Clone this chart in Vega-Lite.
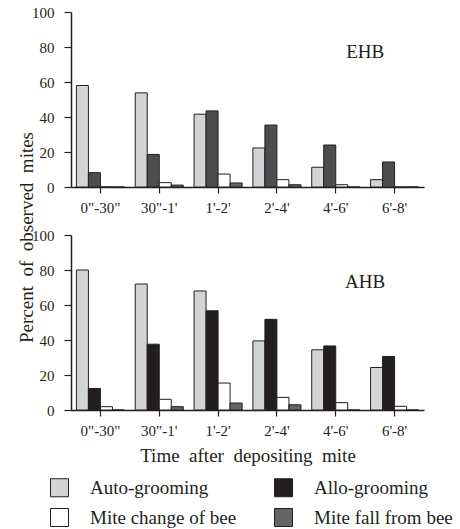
{
  "$schema": "https://vega.github.io/schema/vega-lite/v6.json",
  "background": "white",
  "padding": {"left": 17, "top": 5, "right": 5, "bottom": 5},
  "config": {
    "font": "Liberation Serif",
    "view": {"stroke": null},
    "axis": {
      "labelFont": "Liberation Serif", "titleFont": "Liberation Serif",
      "labelFontSize": 15, "titleFontSize": 19, "titleFontWeight": "normal",
      "labelColor": "#231f20", "titleColor": "#231f20",
      "domainColor": "#231f20", "tickColor": "#231f20",
      "domainWidth": 1.5, "tickWidth": 1.2, "grid": false, "labelOverlap": false
    },
    "axisX": {"tickSize": 6, "labelPadding": 7, "labelAngle": 0, "titlePadding": 8},
    "axisY": {"tickSize": 7, "labelPadding": 10, "titlePadding": -5}
  },
  "datasets": {
    "bars": [
      {"panel": "EHB", "time": "0\"-30\"", "behavior": "Auto-grooming", "pct": 58},
      {"panel": "EHB", "time": "0\"-30\"", "behavior": "Allo-grooming", "pct": 8.2},
      {"panel": "EHB", "time": "0\"-30\"", "behavior": "Mite change of bee", "pct": 0},
      {"panel": "EHB", "time": "0\"-30\"", "behavior": "Mite fall from bee", "pct": 0},
      {"panel": "EHB", "time": "30\"-1'", "behavior": "Auto-grooming", "pct": 53.8},
      {"panel": "EHB", "time": "30\"-1'", "behavior": "Allo-grooming", "pct": 18.6},
      {"panel": "EHB", "time": "30\"-1'", "behavior": "Mite change of bee", "pct": 2.5},
      {"panel": "EHB", "time": "30\"-1'", "behavior": "Mite fall from bee", "pct": 1.1},
      {"panel": "EHB", "time": "1'-2'", "behavior": "Auto-grooming", "pct": 41.6},
      {"panel": "EHB", "time": "1'-2'", "behavior": "Allo-grooming", "pct": 43.5},
      {"panel": "EHB", "time": "1'-2'", "behavior": "Mite change of bee", "pct": 7.4},
      {"panel": "EHB", "time": "1'-2'", "behavior": "Mite fall from bee", "pct": 2.3},
      {"panel": "EHB", "time": "2'-4'", "behavior": "Auto-grooming", "pct": 22.3},
      {"panel": "EHB", "time": "2'-4'", "behavior": "Allo-grooming", "pct": 35.4},
      {"panel": "EHB", "time": "2'-4'", "behavior": "Mite change of bee", "pct": 4.2},
      {"panel": "EHB", "time": "2'-4'", "behavior": "Mite fall from bee", "pct": 1.3},
      {"panel": "EHB", "time": "4'-6'", "behavior": "Auto-grooming", "pct": 11.3},
      {"panel": "EHB", "time": "4'-6'", "behavior": "Allo-grooming", "pct": 24},
      {"panel": "EHB", "time": "4'-6'", "behavior": "Mite change of bee", "pct": 1.3},
      {"panel": "EHB", "time": "4'-6'", "behavior": "Mite fall from bee", "pct": 0},
      {"panel": "EHB", "time": "6'-8'", "behavior": "Auto-grooming", "pct": 4.2},
      {"panel": "EHB", "time": "6'-8'", "behavior": "Allo-grooming", "pct": 14.3},
      {"panel": "EHB", "time": "6'-8'", "behavior": "Mite change of bee", "pct": 0},
      {"panel": "EHB", "time": "6'-8'", "behavior": "Mite fall from bee", "pct": 0},
      {"panel": "AHB", "time": "0\"-30\"", "behavior": "Auto-grooming", "pct": 80},
      {"panel": "AHB", "time": "0\"-30\"", "behavior": "Allo-grooming", "pct": 12.3},
      {"panel": "AHB", "time": "0\"-30\"", "behavior": "Mite change of bee", "pct": 1.9},
      {"panel": "AHB", "time": "0\"-30\"", "behavior": "Mite fall from bee", "pct": 0},
      {"panel": "AHB", "time": "30\"-1'", "behavior": "Auto-grooming", "pct": 72},
      {"panel": "AHB", "time": "30\"-1'", "behavior": "Allo-grooming", "pct": 37.6},
      {"panel": "AHB", "time": "30\"-1'", "behavior": "Mite change of bee", "pct": 6.1},
      {"panel": "AHB", "time": "30\"-1'", "behavior": "Mite fall from bee", "pct": 1.9},
      {"panel": "AHB", "time": "1'-2'", "behavior": "Auto-grooming", "pct": 68},
      {"panel": "AHB", "time": "1'-2'", "behavior": "Allo-grooming", "pct": 56.7},
      {"panel": "AHB", "time": "1'-2'", "behavior": "Mite change of bee", "pct": 15.4},
      {"panel": "AHB", "time": "1'-2'", "behavior": "Mite fall from bee", "pct": 4},
      {"panel": "AHB", "time": "2'-4'", "behavior": "Auto-grooming", "pct": 39.5},
      {"panel": "AHB", "time": "2'-4'", "behavior": "Allo-grooming", "pct": 51.8},
      {"panel": "AHB", "time": "2'-4'", "behavior": "Mite change of bee", "pct": 7.2},
      {"panel": "AHB", "time": "2'-4'", "behavior": "Mite fall from bee", "pct": 3},
      {"panel": "AHB", "time": "4'-6'", "behavior": "Auto-grooming", "pct": 34.4},
      {"panel": "AHB", "time": "4'-6'", "behavior": "Allo-grooming", "pct": 36.6},
      {"panel": "AHB", "time": "4'-6'", "behavior": "Mite change of bee", "pct": 4.2},
      {"panel": "AHB", "time": "4'-6'", "behavior": "Mite fall from bee", "pct": 0},
      {"panel": "AHB", "time": "6'-8'", "behavior": "Auto-grooming", "pct": 24.3},
      {"panel": "AHB", "time": "6'-8'", "behavior": "Allo-grooming", "pct": 30.6},
      {"panel": "AHB", "time": "6'-8'", "behavior": "Mite change of bee", "pct": 2.1},
      {"panel": "AHB", "time": "6'-8'", "behavior": "Mite fall from bee", "pct": 0}
    ]
  },
  "spacing": 48,
  "bounds": "flush",
  "vconcat": [
    {
      "width": 353,
      "height": 175,
      "layer": [
        {
          "data": {"name": "bars"},
          "transform": [{"filter": "datum.panel === 'EHB'"}],
          "mark": {"type": "bar", "stroke": "#231f20", "strokeWidth": 1},
          "encoding": {
            "x": {"field": "time", "type": "nominal", "sort": ["0\"-30\"", "30\"-1'", "1'-2'", "2'-4'", "4'-6'", "6'-8'"], "scale": {"paddingInner": 0, "paddingOuter": 0}, "axis": {"title": null, "labelOverlap": false}},
            "xOffset": {"field": "behavior", "type": "nominal", "sort": ["Auto-grooming", "Allo-grooming", "Mite change of bee", "Mite fall from bee"], "scale": {"paddingInner": 0, "paddingOuter": 0.45}},
            "y": {"field": "pct", "type": "quantitative", "scale": {"domain": [0, 100]}, "axis": {"values": [0, 20, 40, 60, 80, 100], "title": null, "labelOverlap": false}},
            "color": {
              "condition": {"test": "datum.behavior === 'Allo-grooming'", "value": "#4d4d4f"},
              "field": "behavior", "type": "nominal",
              "scale": {"domain": ["Auto-grooming", "Allo-grooming", "Mite change of bee", "Mite fall from bee"], "range": ["#d3d4d6", "#231f20", "#ffffff", "#636466"]},
              "legend": {
                "title": null, "orient": "none", "legendX": -21, "legendY": 466,
                "direction": "horizontal", "columns": 2,
                "symbolType": "square", "symbolSize": 324,
                "symbolStrokeColor": "#231f20", "symbolStrokeWidth": 1,
                "symbolOpacity": 1,
                "labelFont": "Liberation Serif", "labelFontSize": 19, "labelColor": "#231f20",
                "labelOffset": 21, "columnPadding": 35, "rowPadding": 7, "labelLimit": 300
              }
            }
          }
        },
        {
          "data": {"values": [{"label": "EHB", "time": "4'-6'", "pct": 77}]},
          "mark": {"type": "text", "font": "Liberation Serif", "fontSize": 19, "color": "#231f20", "align": "center", "baseline": "middle"},
          "encoding": {
            "x": {"field": "time", "type": "nominal", "bandPosition": 1, "sort": ["0\"-30\"", "30\"-1'", "1'-2'", "2'-4'", "4'-6'", "6'-8'"], "axis": {"title": null, "labelOverlap": false}},
            "y": {"field": "pct", "type": "quantitative", "axis": {"values": [0, 20, 40, 60, 80, 100], "title": null, "labelOverlap": false}},
            "text": {"field": "label"}
          }
        }
      ]
    },
    {
      "width": 353,
      "height": 175,
      "layer": [
        {
          "data": {"name": "bars"},
          "transform": [{"filter": "datum.panel === 'AHB'"}],
          "mark": {"type": "bar", "stroke": "#231f20", "strokeWidth": 1},
          "encoding": {
            "x": {"field": "time", "type": "nominal", "sort": ["0\"-30\"", "30\"-1'", "1'-2'", "2'-4'", "4'-6'", "6'-8'"], "scale": {"paddingInner": 0, "paddingOuter": 0}, "axis": {"title": "Time\u2002after\u2002depositing\u2002mite", "labelOverlap": false}},
            "xOffset": {"field": "behavior", "type": "nominal", "sort": ["Auto-grooming", "Allo-grooming", "Mite change of bee", "Mite fall from bee"], "scale": {"paddingInner": 0, "paddingOuter": 0.45}},
            "y": {"field": "pct", "type": "quantitative", "scale": {"domain": [0, 100]}, "axis": {"values": [0, 20, 40, 60, 80, 100], "title": "Percent\u2002of\u2002observed\u2002mites", "titleY": 2, "labelOverlap": false}},
            "color": {"field": "behavior", "type": "nominal"}
          }
        },
        {
          "data": {"values": [{"label": "AHB", "time": "4'-6'", "pct": 73}]},
          "mark": {"type": "text", "font": "Liberation Serif", "fontSize": 19, "color": "#231f20", "align": "center", "baseline": "middle"},
          "encoding": {
            "x": {"field": "time", "type": "nominal", "bandPosition": 1, "sort": ["0\"-30\"", "30\"-1'", "1'-2'", "2'-4'", "4'-6'", "6'-8'"], "axis": {"title": "Time\u2002after\u2002depositing\u2002mite", "labelOverlap": false}},
            "y": {"field": "pct", "type": "quantitative", "axis": {"values": [0, 20, 40, 60, 80, 100], "title": "Percent\u2002of\u2002observed\u2002mites", "titleY": 2, "labelOverlap": false}},
            "text": {"field": "label"}
          }
        }
      ]
    }
  ],
  "resolve": {"scale": {"color": "shared"}}
}
